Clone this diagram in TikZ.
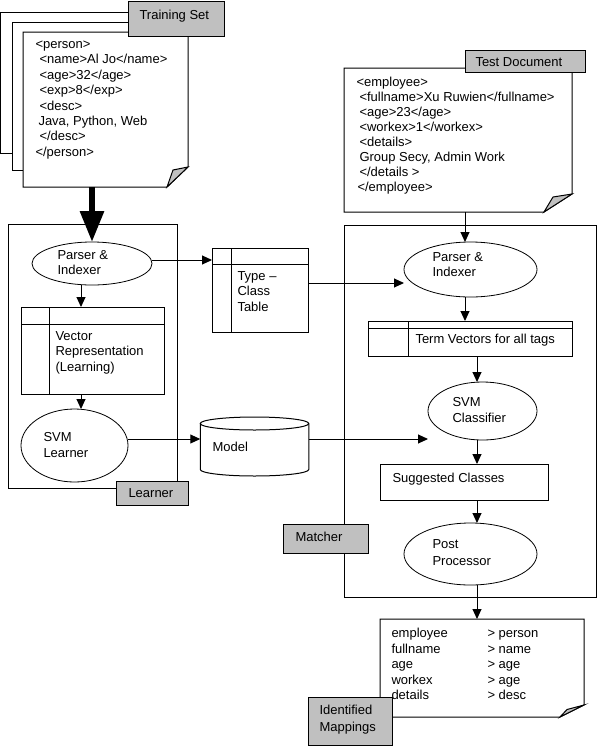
\documentclass[tikz,border=0pt]{standalone}
\usepackage{fontspec}
\setmainfont{Liberation Sans}
\usetikzlibrary{shapes.geometric, arrows.meta}
\definecolor{tabgray}{RGB}{192,192,192}

\begin{document}
\begin{tikzpicture}[x=1pt, y=-1pt, line width=1pt, font=\fontsize{13}{15}\selectfont,
  txt/.style={anchor=base west, inner sep=0pt},
  frame/.style={draw, rectangle, inner sep=0pt, outer sep=0pt, anchor=north west},
  tab/.style={frame, fill=tabgray},
  oval/.style={draw, ellipse, inner sep=0pt, outer sep=0pt, line width=0.8pt},
  arr/.style={-{Triangle[length=10pt, width=9pt]}}]
  \path[use as bounding box, fill=white] (0,0) rectangle (597,748);

  \draw[fill=white] (0.5,12) rectangle (170,153);
  \draw[fill=white] (12,22) rectangle (170,170);
  \node[frame, draw=none, minimum width=165pt, minimum height=155pt] (train) at (23,32) {};
  \node[frame, draw=none, minimum width=228pt, minimum height=144pt] (test) at (344,68) {};
  \node[frame, draw=none, minimum width=204pt, minimum height=98pt] (maps) at (380,619) {};
  \foreach \p/\fx/\fy/\ix/\iy in {train/21/20/15/17, test/28/18/19/15, maps/24/12/17/7.5} {
    \draw[fill=white] (\p.north west) -- (\p.north east) -- ([yshift=\fy pt]\p.south east)
      -- ([xshift=-\fx pt]\p.south east) -- (\p.south west) -- cycle;
    \draw[fill=tabgray] ([xshift=-\fx pt]\p.south east) -- ([yshift=\fy pt]\p.south east)
      -- ([xshift=-\ix pt, yshift=\iy pt]\p.south east) -- cycle;
  }
  \foreach \x/\t [count=\i from 0] in {35/{<person>}, 39/{<name>Al Jo</name>}, 39/{<age>32</age>},
      39/{<exp>8</exp>}, 39/{<desc>}, 38/{Java, Python, Web}, 39/{</desc>}, 35/{</person>}}
    \node[txt] (tr\i) at (\x, 48.5+15.4*\i) {\t};
  \foreach \x/\t [count=\i from 0] in {356/{<employee>}, 359/{<fullname>Xu Ruwien</fullname>},
      359/{<age>23</age>}, 359/{<workex>1</workex>}, 359/{<details>}, 359/{Group Secy, Admin Work},
      359/{</details >}, 357/{</employee>}}
    \node[txt] (te\i) at (\x, 86+15.1*\i) {\t};
  \foreach \a/\b [count=\i from 0] in {employee/person, fullname/name, age/age, workex/age, details/desc} {
    \node[txt] (ma\i) at (391, 637.8+15.4*\i) {\a};
    \node[txt] (mb\i) at (487, 637.8+15.4*\i) {> \b};
  }

  \node[frame, minimum width=169pt, minimum height=264pt] (learner) at (8,224) {};
  \node[frame, minimum width=252pt, minimum height=372pt] (matcher) at (344,225) {};
  \node[frame, minimum width=143pt, minimum height=87pt] (vecrep) at (21,307) {};
  \node[frame, minimum width=96pt, minimum height=84pt] (typetab) at (212,248) {};
  \node[frame, minimum width=204pt, minimum height=35pt] (termvec) at (368,321) {};
  \node[frame, minimum width=168pt, minimum height=36pt] (sugg) at (380,464) {};
  \foreach \n/\dy/\dx in {vecrep/17/28, typetab/16/19, termvec/7/40} {
    \draw ([yshift=-\dy pt]\n.north west) -- ([yshift=-\dy pt]\n.north east);
    \draw ([xshift=\dx pt]\n.north west) -- ([xshift=\dx pt]\n.south west);
  }

  \node[oval, minimum width=120pt, minimum height=43pt] (pars1) at (92,263.5) {};
  \node[oval, minimum width=107pt, minimum height=73pt] (svml) at (74.5,445.5) {};
  \node[oval, minimum width=133pt, minimum height=55pt] (pars2) at (470.5,269.5) {};
  \node[oval, minimum width=109pt, minimum height=58pt] (svmc) at (482.5,411) {};
  \node[oval, minimum width=133pt, minimum height=62pt] (post) at (470.5,554) {};
  \node[inner sep=0pt, outer sep=0pt, minimum width=108.5pt, minimum height=59pt] (model) at (254.5,446.5) {};
  \draw (254.5,423.5) ellipse [x radius=54.25pt, y radius=6.5pt];
  \draw (200.25,423.5) -- (200.25,469.5) arc[start angle=180, end angle=360, x radius=54.25pt, y radius=6.5pt]
    -- (308.75,423.5);

  \node[txt] (pars1-a) at (57,259.5) {Parser \&};
  \node[txt] (pars1-b) at (57,274.5) {Indexer};
  \node[txt] (vecrep-a) at (55,340.5) {Vector};
  \node[txt] (vecrep-b) at (55,355.5) {Representation};
  \node[txt] (vecrep-c) at (55,371) {(Learning)};
  \node[txt] (svml-a) at (43,441.5) {SVM};
  \node[txt] (svml-b) at (43,457) {Learner};
  \node[txt] (typetab-a) at (237,280.5) {Type --};
  \node[txt] (typetab-b) at (237,295.5) {Class};
  \node[txt] (typetab-c) at (237,311) {Table};
  \node[txt] (model-a) at (212,451) {Model};
  \node[txt] (pars2-a) at (432,261.5) {Parser \&};
  \node[txt] (pars2-b) at (432,276.5) {Indexer};
  \node[txt] (termvec-a) at (415,343.8) {Term Vectors for all tags};
  \node[txt] (svmc-a) at (452,406) {SVM};
  \node[txt] (svmc-b) at (452,422) {Classifier};
  \node[txt] (sugg-a) at (392,482.8) {Suggested Classes};
  \node[txt] (post-a) at (432,548.5) {Post};
  \node[txt] (post-b) at (432,565) {Processor};

  \coordinate (lspine) at (81,0);
  \coordinate (tspine) at (465,0);
  \coordinate (rspine) at (477,0);
  \draw[line width=6pt, -{Triangle[length=31pt, width=23pt]}] (train.south -| pars1.north) -- (pars1.north);
  \draw[arr] ([yshift=3.5pt]pars1.east) -- ([yshift=3.5pt]pars1.east -| typetab.west);
  \draw[arr] (lspine |- pars1.south) -- (lspine |- vecrep.north);
  \draw[arr] (lspine |- vecrep.south) -- (lspine |- svml.north);
  \draw[arr] ([yshift=6.5pt]svml.east) -- ([yshift=6.5pt]svml.east -| model.west);
  \draw[arr] ([yshift=7.5pt]model.east) -- ([yshift=7.5pt]model.east -| svmc.west);
  \draw[arr] ([yshift=7pt]typetab.east) -- ([yshift=7pt]typetab.east -| pars2.west);
  \draw[arr] (tspine |- test.south) -- (tspine |- pars2.north);
  \draw[arr] (tspine |- pars2.south) -- (tspine |- termvec.north);
  \draw[arr] (rspine |- termvec.south) -- (rspine |- svmc.north);
  \draw[arr] (rspine |- svmc.south) -- (rspine |- sugg.north);
  \draw[arr] (rspine |- sugg.south) -- (rspine |- post.north);
  \draw[arr] (rspine |- post.south) -- (rspine |- maps.north);

  \node[tab, minimum width=96pt, minimum height=35pt] (trainset) at (128,1) {};
  \node[tab, minimum width=120pt, minimum height=22pt] (testdoc) at (465,50) {};
  \node[tab, minimum width=72pt, minimum height=24pt] (learnertab) at (116,481) {};
  \node[tab, minimum width=85pt, minimum height=29pt] (matchertab) at (283,524) {};
  \node[tab, minimum width=84pt, minimum height=48pt] (mapstab) at (308,697) {};
  \node[txt] (trainset-a) at (139,19) {Training Set};
  \node[txt] (testdoc-a) at (475,66) {Test Document};
  \node[txt] (learnertab-a) at (128,497.8) {Learner};
  \node[txt] (matchertab-a) at (295,541.8) {Matcher};
  \node[txt] (mapstab-a) at (319,714.5) {Identified};
  \node[txt] (mapstab-b) at (319,731) {Mappings};
\end{tikzpicture}
\end{document}
